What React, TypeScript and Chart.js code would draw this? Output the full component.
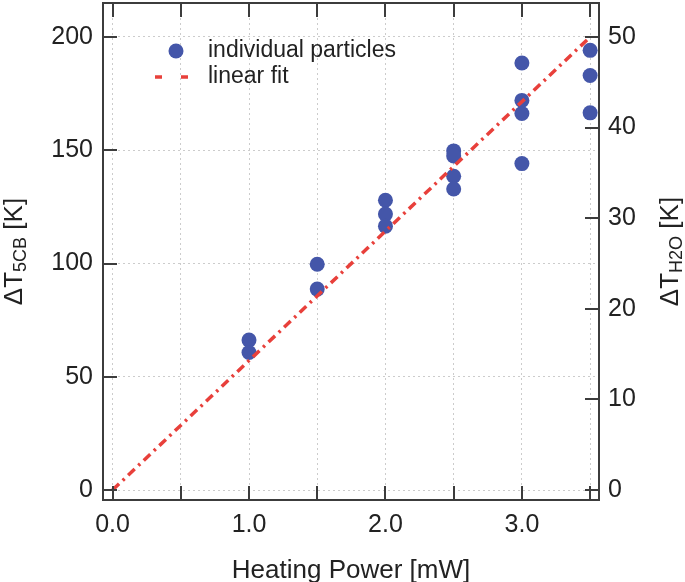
import React, { useEffect, useRef } from 'react';
import { Chart, registerables } from 'chart.js';

Chart.register(...registerables);

// ---- data ----
const particlePower = [1.0, 1.0, 1.5, 1.5, 2.0, 2.0, 2.0, 2.5, 2.5, 2.5, 2.5, 3.0, 3.0, 3.0, 3.0, 3.5, 3.5, 3.5];
const particleDT5CB = [66.2, 60.7, 99.7, 88.7, 127.9, 121.8, 116.5, 149.7, 147.5, 138.5, 132.9, 188.5, 172.0, 166.2, 144.1, 194.1, 183.0, 166.5];
const fitPower = [0, 3.5];
const fitDT5CB = [0, 200];

const xTicks = [0, 0.5, 1.0, 1.5, 2.0, 2.5, 3.0, 3.5];
const yLeftTicks = [0, 50, 100, 150, 200];
const yRightTicks = [0, 10, 20, 30, 40, 50];

const xMin = -0.07;
const xMax = 3.565;
const yMin = -4.4;
const yMax = 215;
const rightFactor = 4; // ΔT5CB / ΔTH2O

const legendLabels = ['individual particles', 'linear fit'];
const xTitle = 'Heating Power [mW]';

// ---- styles ----
const FONT = '"Liberation Sans", Arial, Helvetica, sans-serif';
const BLUE = '#4456a9';
const RED = '#e8403b';
const AXIS = '#3c3c3c';
const TEXT = '#222222';
const GRID = '#cccccc';
const TICK_LEN = 14;

function drawRotatedTitle(ctx: CanvasRenderingContext2D, baselineX: number, cy: number, main: string, sub: string, tail: string) {
  ctx.save();
  ctx.fillStyle = TEXT;
  ctx.textBaseline = 'alphabetic';
  ctx.textAlign = 'left';
  const bigFont = `26px ${FONT}`;
  const smallFont = `18px ${FONT}`;
  ctx.font = bigFont;
  const w1 = ctx.measureText(main).width;
  const w3 = ctx.measureText(tail).width;
  ctx.font = smallFont;
  const w2 = ctx.measureText(sub).width;
  const total = w1 + w2 + w3;
  ctx.translate(baselineX, cy);
  ctx.rotate(-Math.PI / 2);
  let u = -total / 2;
  ctx.font = bigFont;
  ctx.fillText(main, u, 0);
  u += w1;
  ctx.font = smallFont;
  ctx.fillText(sub, u, 4);
  u += w2;
  ctx.font = bigFont;
  ctx.fillText(tail, u, 0);
  ctx.restore();
}

const decorPlugin = {
  id: 'decor',
  afterDraw(chart: any) {
    const ctx: CanvasRenderingContext2D = chart.ctx;
    const ca = chart.chartArea;
    const xs = chart.scales.x;
    const ys = chart.scales.y;
    const y2 = chart.scales.y2;
    ctx.save();
    // inward ticks
    ctx.strokeStyle = AXIS;
    ctx.lineWidth = 2;
    ctx.beginPath();
    xTicks.forEach((v) => {
      const px = Math.round(xs.getPixelForValue(v));
      ctx.moveTo(px, ca.bottom);
      ctx.lineTo(px, ca.bottom - TICK_LEN);
      ctx.moveTo(px, ca.top);
      ctx.lineTo(px, ca.top + TICK_LEN);
    });
    yLeftTicks.forEach((v) => {
      const py = Math.round(ys.getPixelForValue(v));
      ctx.moveTo(ca.left, py);
      ctx.lineTo(ca.left + TICK_LEN, py);
    });
    yRightTicks.forEach((v) => {
      const py = Math.round(y2.getPixelForValue(v));
      ctx.moveTo(ca.right, py);
      ctx.lineTo(ca.right - TICK_LEN, py);
    });
    ctx.stroke();
    // frame
    ctx.strokeRect(ca.left, ca.top, ca.right - ca.left, ca.bottom - ca.top);

    // titles
    ctx.fillStyle = TEXT;
    ctx.font = `26px ${FONT}`;
    ctx.textAlign = 'center';
    ctx.textBaseline = 'alphabetic';
    ctx.fillText(xTitle, (ca.left + ca.right) / 2, 578);
    drawRotatedTitle(ctx, 22, (ca.top + ca.bottom) / 2, 'ΔT', '5CB', ' [K]');
    drawRotatedTitle(ctx, 678, (ca.top + ca.bottom) / 2, 'ΔT', 'H2O', ' [K]');

    // legend
    ctx.fillStyle = BLUE;
    ctx.beginPath();
    ctx.arc(176, 51, 7.5, 0, Math.PI * 2);
    ctx.fill();
    ctx.strokeStyle = RED;
    ctx.lineWidth = 3.5;
    ctx.beginPath();
    ctx.moveTo(155, 77);
    ctx.lineTo(162, 77);
    ctx.moveTo(181, 77);
    ctx.lineTo(188, 77);
    ctx.stroke();
    ctx.fillStyle = TEXT;
    ctx.font = `23px ${FONT}`;
    ctx.textAlign = 'left';
    ctx.textBaseline = 'alphabetic';
    ctx.fillText(legendLabels[0], 208, 57);
    ctx.fillText(legendLabels[1], 208, 83);
    ctx.restore();
  },
};

export default function App() {
  const canvasRef = useRef<HTMLCanvasElement | null>(null);

  useEffect(() => {
    const canvas = canvasRef.current;
    if (!canvas) return;
    const tickFont = { family: FONT, size: 25 };
    const chart = new Chart(canvas, {
      type: 'scatter',
      data: {
        datasets: [
          {
            label: legendLabels[0],
            data: particlePower.map((x, i) => ({ x, y: particleDT5CB[i] })),
            backgroundColor: BLUE,
            borderColor: BLUE,
            pointRadius: 7.5,
            pointBorderWidth: 0,
            order: 2,
            yAxisID: 'y',
          },
          {
            label: legendLabels[1],
            data: fitPower.map((x, i) => ({ x, y: fitDT5CB[i] })),
            showLine: true,
            borderColor: RED,
            backgroundColor: RED,
            borderWidth: 3.5,
            borderDash: [9, 5, 2.5, 5],
            pointRadius: 0,
            fill: false,
            order: 1,
            yAxisID: 'y',
          },
        ],
      },
      options: {
        animation: false,
        responsive: true,
        maintainAspectRatio: false,
        layout: { autoPadding: false, padding: { top: 3, left: 0, right: 0, bottom: 0 } },
        plugins: { legend: { display: false }, tooltip: { enabled: false } },
        scales: {
          x: {
            type: 'linear',
            position: 'bottom',
            min: xMin,
            max: xMax,
            afterBuildTicks: (s: any) => { s.ticks = xTicks.map((v) => ({ value: v })); },
            afterFit: (s: any) => { s.height = 82; s.paddingLeft = 0; s.paddingRight = 0; },
            ticks: {
              autoSkip: false,
              maxRotation: 0,
              padding: 10,
              color: TEXT,
              font: tickFont,
              callback: (v: any) => (Number.isInteger(Number(v)) ? Number(v).toFixed(1) : ''),
            },
            grid: { color: GRID, lineWidth: 1, drawTicks: false },
            border: { display: false, dash: [2, 3] },
          },
          y: {
            type: 'linear',
            position: 'left',
            min: yMin,
            max: yMax,
            afterBuildTicks: (s: any) => { s.ticks = yLeftTicks.map((v) => ({ value: v })); },
            afterFit: (s: any) => { s.width = 103; s.paddingTop = 0; s.paddingBottom = 0; },
            ticks: { autoSkip: false, padding: 10, color: TEXT, font: tickFont },
            grid: { color: GRID, lineWidth: 1, drawTicks: false },
            border: { display: false, dash: [2, 3] },
          },
          y2: {
            type: 'linear',
            position: 'right',
            min: yMin / rightFactor,
            max: yMax / rightFactor,
            afterBuildTicks: (s: any) => { s.ticks = yRightTicks.map((v) => ({ value: v })); },
            afterFit: (s: any) => { s.width = 86; s.paddingTop = 0; s.paddingBottom = 0; },
            ticks: { autoSkip: false, padding: 9, color: TEXT, font: tickFont },
            grid: { drawOnChartArea: false, drawTicks: false },
            border: { display: false },
          },
        },
      } as any,
      plugins: [decorPlugin],
    });
    return () => chart.destroy();
  }, []);

  return (
    <div style={{ position: 'fixed', left: 0, top: 0, width: 685, height: 582, background: '#fff' }}>
      <canvas ref={canvasRef} />
    </div>
  );
}
